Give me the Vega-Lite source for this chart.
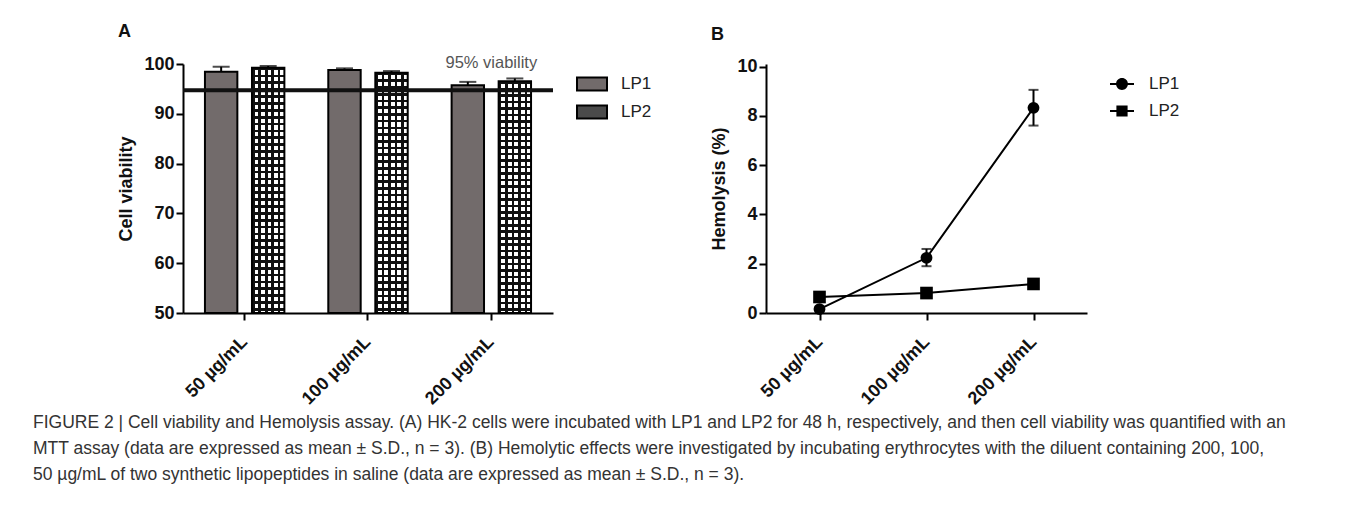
{
  "$schema": "https://vega.github.io/schema/vega-lite/v6.json",
  "background": "white",
  "padding": {"left": 32, "top": 23, "right": 5, "bottom": 5},
  "config": {
    "font": "Liberation Sans",
    "view": {"stroke": null},
    "axis": {
      "domainColor": "black", "domainWidth": 2, "tickColor": "black", "tickWidth": 2, "tickSize": 7,
      "labelFont": "Liberation Sans", "labelFontWeight": "bold", "labelFontSize": 18, "labelColor": "#111",
      "titleFont": "Liberation Sans", "titleFontWeight": "bold", "titleFontSize": 18, "titleColor": "#111",
      "grid": false
    },
    "legend": {"padding": 0}
  },
  "resolve": {"scale": {"fill": "independent", "shape": "independent"}, "legend": {"fill": "independent", "shape": "independent"}},
  "datasets": {
    "viability": [
      {"conc": "50 µg/mL", "group": "LP1", "mean": 98.44, "hi": 99.45},
      {"conc": "50 µg/mL", "group": "LP2", "mean": 99.25, "hi": 99.6},
      {"conc": "100 µg/mL", "group": "LP1", "mean": 98.78, "hi": 99.13},
      {"conc": "100 µg/mL", "group": "LP2", "mean": 98.24, "hi": 98.58},
      {"conc": "200 µg/mL", "group": "LP1", "mean": 95.74, "hi": 96.41},
      {"conc": "200 µg/mL", "group": "LP2", "mean": 96.55, "hi": 97.1}
    ],
    "threshold": [{"conc": "200 µg/mL", "level": 94.73, "top": 100, "label": "95% viability"}],
    "hemo": [
      {"conc": "50 µg/mL", "group": "LP1", "mean": 0.16, "lo": 0.06, "hi": 0.26},
      {"conc": "100 µg/mL", "group": "LP1", "mean": 2.24, "lo": 1.9, "hi": 2.6},
      {"conc": "200 µg/mL", "group": "LP1", "mean": 8.33, "lo": 7.61, "hi": 9.06},
      {"conc": "50 µg/mL", "group": "LP2", "mean": 0.65, "lo": 0.55, "hi": 0.75},
      {"conc": "100 µg/mL", "group": "LP2", "mean": 0.81, "lo": 0.72, "hi": 0.9},
      {"conc": "200 µg/mL", "group": "LP2", "mean": 1.18, "lo": 1.0, "hi": 1.36}
    ]
  },
  "title": {
    "text": [
      "FIGURE 2 | Cell viability and Hemolysis assay. (A) HK-2 cells were incubated with LP1 and LP2 for 48 h, respectively, and then cell viability was quantified with an",
      "MTT assay (data are expressed as mean ± S.D., n = 3). (B) Hemolytic effects were investigated by incubating erythrocytes with the diluent containing 200, 100,",
      "50 µg/mL of two synthetic lipopeptides in saline (data are expressed as mean ± S.D., n = 3)."
    ],
    "orient": "bottom", "anchor": "start", "frame": "bounds",
    "font": "Liberation Sans", "fontSize": 17.5, "fontWeight": "normal", "color": "#333",
    "lineHeight": 26, "offset": 6, "dx": -85
  },
  "spacing": 58,
  "hconcat": [
    {
      "width": 370, "height": 249,
      "title": {"text": "A", "anchor": "start", "frame": "bounds", "fontSize": 18, "fontWeight": "bold", "font": "Liberation Sans", "color": "#111", "offset": 14},
      "data": {"name": "viability"},
      "encoding": {
        "x": {"field": "conc", "type": "nominal", "sort": ["50 µg/mL", "100 µg/mL", "200 µg/mL"], "scale": {"paddingInner": 0.356, "paddingOuter": 0.178}, "title": null,
              "axis": {"labelAngle": -45, "labelAlign": "right", "labelBaseline": "middle", "labelFontSize": 18, "labelPadding": 19}},
        "xOffset": {"field": "group", "type": "nominal", "scale": {"domain": ["LP1", "LP2"], "paddingInner": 0.311, "paddingOuter": 0}}
      },
      "layer": [
        {
          "transform": [{"filter": "datum.group === 'LP1'"}],
          "mark": {"type": "bar", "stroke": "black", "strokeWidth": 2},
          "encoding": {
            "y": {"field": "mean", "type": "quantitative", "scale": {"domain": [50, 100], "zero": false, "nice": false}, "title": "Cell viability",
                  "axis": {"values": [50, 60, 70, 80, 90, 100], "titlePadding": 8}},
            "y2": {"datum": 50},
            "fill": {"field": "group", "type": "nominal", "scale": {"domain": ["LP1", "LP2"], "range": ["#726b6b", "#4a4a4a"]},
                     "legend": {"title": null, "orient": "none", "legendX": 398, "legendY": 9, "symbolType": "M-1.5,-0.65H1.5V0.65H-1.5Z", "symbolSize": 400,
                                "symbolStrokeColor": "black", "symbolStrokeWidth": 2, "symbolOpacity": 1, "labelFontSize": 17, "labelFont": "Liberation Sans", "labelColor": "#222", "labelOffset": 18, "rowPadding": 6}}
          }
        },
        {
          "transform": [{"filter": "datum.group === 'LP2'"}],
          "mark": {"type": "bar", "strokeWidth": 0, "fill": {"gradient": "linear", "x1": 0, "y1": 0, "x2": 1, "y2": 0, "stops": [
            {"offset": 0, "color": "#111"}, {"offset": 0.08, "color": "#111"}, {"offset": 0.08, "color": "#fff"}, {"offset": 0.2, "color": "#fff"},
            {"offset": 0.2, "color": "#111"}, {"offset": 0.28, "color": "#111"}, {"offset": 0.28, "color": "#fff"}, {"offset": 0.4, "color": "#fff"},
            {"offset": 0.4, "color": "#111"}, {"offset": 0.48, "color": "#111"}, {"offset": 0.48, "color": "#fff"}, {"offset": 0.6, "color": "#fff"},
            {"offset": 0.6, "color": "#111"}, {"offset": 0.68, "color": "#111"}, {"offset": 0.68, "color": "#fff"}, {"offset": 0.8, "color": "#fff"},
            {"offset": 0.8, "color": "#111"}, {"offset": 0.88, "color": "#111"}, {"offset": 0.88, "color": "#fff"}, {"offset": 1, "color": "#fff"}
          ]}},
          "encoding": {
            "y": {"field": "mean", "type": "quantitative"},
            "y2": {"datum": 50}
          }
        },
        {
          "transform": [{"filter": "datum.group === 'LP2'"}],
          "mark": {"type": "bar", "stroke": "black", "strokeWidth": 2, "fill": {"gradient": "linear", "x1": 0, "y1": 0, "x2": 0, "y2": 1, "stops": [
            {"offset": 0, "color": "#111"}, {"offset": 0.011, "color": "#111"}, {"offset": 0.011, "color": "rgba(0,0,0,0)"}, {"offset": 0.028, "color": "rgba(0,0,0,0)"},
            {"offset": 0.028, "color": "#111"}, {"offset": 0.039, "color": "#111"}, {"offset": 0.039, "color": "rgba(0,0,0,0)"}, {"offset": 0.056, "color": "rgba(0,0,0,0)"},
            {"offset": 0.056, "color": "#111"}, {"offset": 0.067, "color": "#111"}, {"offset": 0.067, "color": "rgba(0,0,0,0)"}, {"offset": 0.084, "color": "rgba(0,0,0,0)"},
            {"offset": 0.084, "color": "#111"}, {"offset": 0.095, "color": "#111"}, {"offset": 0.095, "color": "rgba(0,0,0,0)"}, {"offset": 0.112, "color": "rgba(0,0,0,0)"},
            {"offset": 0.112, "color": "#111"}, {"offset": 0.123, "color": "#111"}, {"offset": 0.123, "color": "rgba(0,0,0,0)"}, {"offset": 0.14, "color": "rgba(0,0,0,0)"},
            {"offset": 0.14, "color": "#111"}, {"offset": 0.151, "color": "#111"}, {"offset": 0.151, "color": "rgba(0,0,0,0)"}, {"offset": 0.168, "color": "rgba(0,0,0,0)"},
            {"offset": 0.168, "color": "#111"}, {"offset": 0.179, "color": "#111"}, {"offset": 0.179, "color": "rgba(0,0,0,0)"}, {"offset": 0.196, "color": "rgba(0,0,0,0)"},
            {"offset": 0.196, "color": "#111"}, {"offset": 0.207, "color": "#111"}, {"offset": 0.207, "color": "rgba(0,0,0,0)"}, {"offset": 0.224, "color": "rgba(0,0,0,0)"},
            {"offset": 0.224, "color": "#111"}, {"offset": 0.235, "color": "#111"}, {"offset": 0.235, "color": "rgba(0,0,0,0)"}, {"offset": 0.252, "color": "rgba(0,0,0,0)"},
            {"offset": 0.252, "color": "#111"}, {"offset": 0.263, "color": "#111"}, {"offset": 0.263, "color": "rgba(0,0,0,0)"}, {"offset": 0.28, "color": "rgba(0,0,0,0)"},
            {"offset": 0.28, "color": "#111"}, {"offset": 0.291, "color": "#111"}, {"offset": 0.291, "color": "rgba(0,0,0,0)"}, {"offset": 0.308, "color": "rgba(0,0,0,0)"},
            {"offset": 0.308, "color": "#111"}, {"offset": 0.319, "color": "#111"}, {"offset": 0.319, "color": "rgba(0,0,0,0)"}, {"offset": 0.336, "color": "rgba(0,0,0,0)"},
            {"offset": 0.336, "color": "#111"}, {"offset": 0.347, "color": "#111"}, {"offset": 0.347, "color": "rgba(0,0,0,0)"}, {"offset": 0.364, "color": "rgba(0,0,0,0)"},
            {"offset": 0.364, "color": "#111"}, {"offset": 0.375, "color": "#111"}, {"offset": 0.375, "color": "rgba(0,0,0,0)"}, {"offset": 0.392, "color": "rgba(0,0,0,0)"},
            {"offset": 0.392, "color": "#111"}, {"offset": 0.403, "color": "#111"}, {"offset": 0.403, "color": "rgba(0,0,0,0)"}, {"offset": 0.42, "color": "rgba(0,0,0,0)"},
            {"offset": 0.42, "color": "#111"}, {"offset": 0.431, "color": "#111"}, {"offset": 0.431, "color": "rgba(0,0,0,0)"}, {"offset": 0.448, "color": "rgba(0,0,0,0)"},
            {"offset": 0.448, "color": "#111"}, {"offset": 0.459, "color": "#111"}, {"offset": 0.459, "color": "rgba(0,0,0,0)"}, {"offset": 0.476, "color": "rgba(0,0,0,0)"},
            {"offset": 0.476, "color": "#111"}, {"offset": 0.487, "color": "#111"}, {"offset": 0.487, "color": "rgba(0,0,0,0)"}, {"offset": 0.504, "color": "rgba(0,0,0,0)"},
            {"offset": 0.504, "color": "#111"}, {"offset": 0.515, "color": "#111"}, {"offset": 0.515, "color": "rgba(0,0,0,0)"}, {"offset": 0.532, "color": "rgba(0,0,0,0)"},
            {"offset": 0.532, "color": "#111"}, {"offset": 0.543, "color": "#111"}, {"offset": 0.543, "color": "rgba(0,0,0,0)"}, {"offset": 0.56, "color": "rgba(0,0,0,0)"},
            {"offset": 0.56, "color": "#111"}, {"offset": 0.571, "color": "#111"}, {"offset": 0.571, "color": "rgba(0,0,0,0)"}, {"offset": 0.588, "color": "rgba(0,0,0,0)"},
            {"offset": 0.588, "color": "#111"}, {"offset": 0.599, "color": "#111"}, {"offset": 0.599, "color": "rgba(0,0,0,0)"}, {"offset": 0.616, "color": "rgba(0,0,0,0)"},
            {"offset": 0.616, "color": "#111"}, {"offset": 0.627, "color": "#111"}, {"offset": 0.627, "color": "rgba(0,0,0,0)"}, {"offset": 0.644, "color": "rgba(0,0,0,0)"},
            {"offset": 0.644, "color": "#111"}, {"offset": 0.655, "color": "#111"}, {"offset": 0.655, "color": "rgba(0,0,0,0)"}, {"offset": 0.672, "color": "rgba(0,0,0,0)"},
            {"offset": 0.672, "color": "#111"}, {"offset": 0.683, "color": "#111"}, {"offset": 0.683, "color": "rgba(0,0,0,0)"}, {"offset": 0.7, "color": "rgba(0,0,0,0)"},
            {"offset": 0.7, "color": "#111"}, {"offset": 0.711, "color": "#111"}, {"offset": 0.711, "color": "rgba(0,0,0,0)"}, {"offset": 0.728, "color": "rgba(0,0,0,0)"},
            {"offset": 0.728, "color": "#111"}, {"offset": 0.739, "color": "#111"}, {"offset": 0.739, "color": "rgba(0,0,0,0)"}, {"offset": 0.756, "color": "rgba(0,0,0,0)"},
            {"offset": 0.756, "color": "#111"}, {"offset": 0.767, "color": "#111"}, {"offset": 0.767, "color": "rgba(0,0,0,0)"}, {"offset": 0.784, "color": "rgba(0,0,0,0)"},
            {"offset": 0.784, "color": "#111"}, {"offset": 0.795, "color": "#111"}, {"offset": 0.795, "color": "rgba(0,0,0,0)"}, {"offset": 0.812, "color": "rgba(0,0,0,0)"},
            {"offset": 0.812, "color": "#111"}, {"offset": 0.823, "color": "#111"}, {"offset": 0.823, "color": "rgba(0,0,0,0)"}, {"offset": 0.84, "color": "rgba(0,0,0,0)"},
            {"offset": 0.84, "color": "#111"}, {"offset": 0.851, "color": "#111"}, {"offset": 0.851, "color": "rgba(0,0,0,0)"}, {"offset": 0.868, "color": "rgba(0,0,0,0)"},
            {"offset": 0.868, "color": "#111"}, {"offset": 0.879, "color": "#111"}, {"offset": 0.879, "color": "rgba(0,0,0,0)"}, {"offset": 0.896, "color": "rgba(0,0,0,0)"},
            {"offset": 0.896, "color": "#111"}, {"offset": 0.907, "color": "#111"}, {"offset": 0.907, "color": "rgba(0,0,0,0)"}, {"offset": 0.924, "color": "rgba(0,0,0,0)"},
            {"offset": 0.924, "color": "#111"}, {"offset": 0.935, "color": "#111"}, {"offset": 0.935, "color": "rgba(0,0,0,0)"}, {"offset": 0.952, "color": "rgba(0,0,0,0)"},
            {"offset": 0.952, "color": "#111"}, {"offset": 0.963, "color": "#111"}, {"offset": 0.963, "color": "rgba(0,0,0,0)"}, {"offset": 0.98, "color": "rgba(0,0,0,0)"},
            {"offset": 0.98, "color": "#111"}, {"offset": 0.991, "color": "#111"}, {"offset": 0.991, "color": "rgba(0,0,0,0)"}, {"offset": 1, "color": "rgba(0,0,0,0)"}
          ]}},
          "encoding": {
            "y": {"field": "mean", "type": "quantitative"},
            "y2": {"datum": 50}
          }
        },
        {
          "mark": {"type": "rule", "color": "black", "strokeWidth": 2},
          "encoding": {
            "y": {"field": "mean", "type": "quantitative"},
            "y2": {"field": "hi"}
          }
        },
        {
          "mark": {"type": "tick", "color": "black", "thickness": 2, "size": 17, "orient": "horizontal"},
          "encoding": {
            "y": {"field": "hi", "type": "quantitative"}
          }
        },
        {
          "data": {"name": "threshold"},
          "mark": {"type": "rule", "color": "#111", "strokeWidth": 4},
          "encoding": {"x": null, "xOffset": null, "y": {"field": "level", "type": "quantitative"}}
        },
        {
          "data": {"name": "threshold"},
          "mark": {"type": "text", "font": "Liberation Sans", "fontSize": 16.5, "color": "#555", "baseline": "middle", "dy": -1},
          "encoding": {
            "xOffset": null,
            "y": {"field": "top", "type": "quantitative"},
            "text": {"field": "label"}
          }
        }
      ]
    },
    {
      "width": 321, "height": 249,
      "title": {"text": "B", "anchor": "start", "frame": "bounds", "fontSize": 18, "fontWeight": "bold", "font": "Liberation Sans", "color": "#111", "offset": 14},
      "data": {"name": "hemo"},
      "encoding": {
        "x": {"field": "conc", "type": "ordinal", "sort": ["50 µg/mL", "100 µg/mL", "200 µg/mL"], "scale": {"type": "point", "padding": 0.5}, "title": null,
              "axis": {"labelAngle": -45, "labelAlign": "right", "labelBaseline": "middle", "labelFontSize": 18, "labelPadding": 19}}
      },
      "layer": [
        {
          "mark": {"type": "line", "color": "black", "strokeWidth": 2},
          "encoding": {
            "y": {"field": "mean", "type": "quantitative", "scale": {"domain": [0, 10.11], "nice": false}, "title": "Hemolysis (%)",
                  "axis": {"values": [0, 2, 4, 6, 8, 10], "titlePadding": 8}},
            "detail": {"field": "group"}
          }
        },
        {
          "mark": {"type": "rule", "color": "black", "strokeWidth": 2},
          "encoding": {"y": {"field": "lo", "type": "quantitative"}, "y2": {"field": "hi"}}
        },
        {
          "mark": {"type": "tick", "color": "black", "thickness": 2, "size": 10, "orient": "horizontal"},
          "encoding": {"y": {"field": "hi", "type": "quantitative"}}
        },
        {
          "mark": {"type": "tick", "color": "black", "thickness": 2, "size": 10, "orient": "horizontal"},
          "encoding": {"y": {"field": "lo", "type": "quantitative"}}
        },
        {
          "transform": [{"filter": "datum.group === 'LP1'"}],
          "mark": {"type": "point", "shape": "circle", "filled": true, "color": "black", "opacity": 1, "size": 140},
          "encoding": {"y": {"field": "mean", "type": "quantitative"}}
        },
        {
          "transform": [{"filter": "datum.group === 'LP2'"}],
          "mark": {"type": "point", "shape": "square", "filled": true, "color": "black", "opacity": 1, "size": 160},
          "encoding": {"y": {"field": "mean", "type": "quantitative"}}
        },
        {
          "mark": {"type": "point", "filled": true, "color": "black", "opacity": 0, "size": 256},
          "encoding": {
            "y": {"field": "mean", "type": "quantitative"},
            "shape": {"field": "group", "type": "nominal",
                      "scale": {"domain": ["LP1", "LP2"], "range": ["M-1.5,-0.12H1.5V0.12H-1.5ZM0.74,0A0.74,0.74 0 1,1 -0.74,0A0.74,0.74 0 1,1 0.74,0Z", "M-1.5,-0.12H1.5V0.12H-1.5ZM-0.7,-0.7H0.7V0.7H-0.7Z"]},
                      "legend": {"title": null, "orient": "none", "legendX": 347, "legendY": 11, "symbolSize": 256, "symbolOpacity": 1, "symbolFillColor": "black",
                                 "labelFontSize": 17, "labelFont": "Liberation Sans", "labelColor": "#222", "labelOffset": 18, "rowPadding": 9}}
          }
        }
      ]
    }
  ]
}
